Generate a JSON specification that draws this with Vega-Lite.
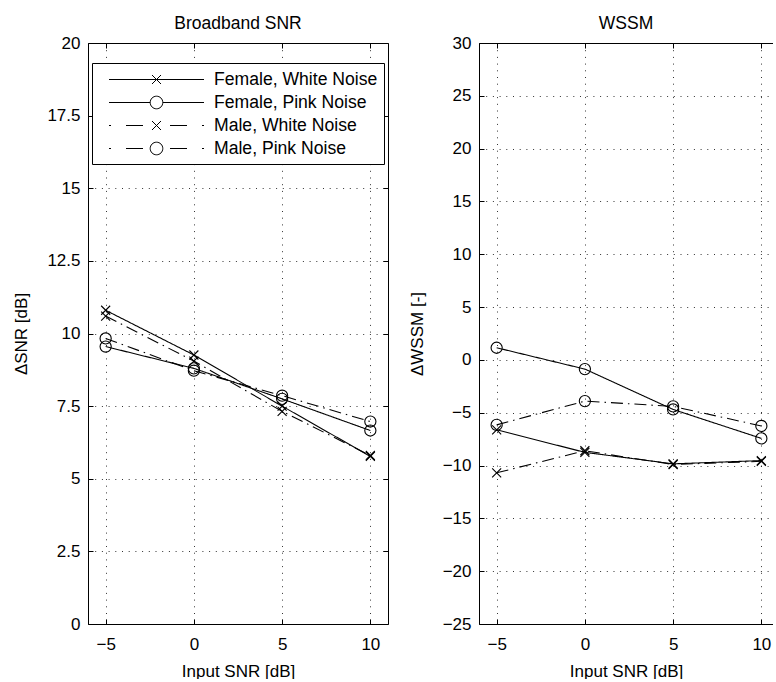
{
  "$schema": "https://vega.github.io/schema/vega-lite/v6.json",
  "padding": {"left": 12, "top": 14, "right": 0, "bottom": 0},
  "background": "white",
  "spacing": 19,
  "config": {
    "view": {"stroke": null},
    "font": "Liberation Sans",
    "axis": {
      "domainColor": "black", "domainWidth": 1, "tickColor": "black", "tickSize": -5, "tickWidth": 1,
      "labelColor": "black", "labelFont": "Liberation Sans", "labelFontSize": 17,
      "titleColor": "black", "titleFont": "Liberation Sans", "titleFontSize": 17, "titleFontWeight": "normal",
      "gridColor": "black", "gridDash": [1, 5.7], "gridOpacity": 0.8, "gridWidth": 1
    },
    "axisX": {"labelPadding": 17},
    "axisY": {"labelPadding": 13},
    "title": {"font": "Liberation Sans", "fontSize": 17.5, "fontWeight": "normal", "color": "black", "offset": 2}
  },
  "resolve": {"scale": {"shape": "independent"}, "legend": {"shape": "independent"}},
  "hconcat": [
    {
      "width": 300,
      "height": 581,
      "title": "Broadband SNR",
      "data": {"values": [
        {"series": "Female, White Noise", "sex": "Female", "noise": "White", "x": -5, "y": 10.80},
        {"series": "Female, White Noise", "sex": "Female", "noise": "White", "x": 0, "y": 9.26},
        {"series": "Female, White Noise", "sex": "Female", "noise": "White", "x": 5, "y": 7.5},
        {"series": "Female, White Noise", "sex": "Female", "noise": "White", "x": 10, "y": 5.77},
        {"series": "Female, Pink Noise", "sex": "Female", "noise": "Pink", "x": -5, "y": 9.55},
        {"series": "Female, Pink Noise", "sex": "Female", "noise": "Pink", "x": 0, "y": 8.80},
        {"series": "Female, Pink Noise", "sex": "Female", "noise": "Pink", "x": 5, "y": 7.75},
        {"series": "Female, Pink Noise", "sex": "Female", "noise": "Pink", "x": 10, "y": 6.66},
        {"series": "Male, White Noise", "sex": "Male", "noise": "White", "x": -5, "y": 10.60},
        {"series": "Male, White Noise", "sex": "Male", "noise": "White", "x": 0, "y": 9.05},
        {"series": "Male, White Noise", "sex": "Male", "noise": "White", "x": 5, "y": 7.32},
        {"series": "Male, White Noise", "sex": "Male", "noise": "White", "x": 10, "y": 5.80},
        {"series": "Male, Pink Noise", "sex": "Male", "noise": "Pink", "x": -5, "y": 9.83},
        {"series": "Male, Pink Noise", "sex": "Male", "noise": "Pink", "x": 0, "y": 8.72},
        {"series": "Male, Pink Noise", "sex": "Male", "noise": "Pink", "x": 5, "y": 7.86},
        {"series": "Male, Pink Noise", "sex": "Male", "noise": "Pink", "x": 10, "y": 6.97}
      ]},
      "resolve": {"axis": {"x": "independent", "y": "independent"}},
      "layer": [
        {
          "mark": {"type": "line", "color": "black", "strokeWidth": 1.1},
          "encoding": {
            "x": {"field": "x", "type": "quantitative", "scale": {"domain": [-6, 11], "nice": false, "zero": false},
                  "axis": {"orient": "bottom", "values": [-5, 0, 5, 10], "labelExpr": "format(datum.value, '~f')", "grid": true, "title": "Input SNR [dB]", "titlePadding": 11}},
            "y": {"field": "y", "type": "quantitative", "scale": {"domain": [0, 20], "nice": false, "zero": false},
                  "axis": {"orient": "left", "values": [0, 2.5, 5, 7.5, 10, 12.5, 15, 17.5, 20], "labelExpr": "format(datum.value, '~f')", "grid": true, "title": "ΔSNR [dB]", "titlePadding": 16}},
            "detail": {"field": "series"},
            "strokeDash": {"field": "sex", "type": "nominal", "scale": {"domain": ["Female", "Male"], "range": [[1, 0], [12, 5, 1.5, 5]]}, "legend": null}
          }
        },
        {
          "transform": [{"filter": "datum.noise === 'White'"}],
          "mark": {"type": "point", "shape": "M-1,-1L1,1M-1,1L1,-1", "size": 81, "filled": false, "color": "black", "strokeWidth": 1.1, "opacity": 1},
          "encoding": {
            "x": {"field": "x", "type": "quantitative", "axis": null},
            "y": {"field": "y", "type": "quantitative", "axis": null}
          }
        },
        {
          "transform": [{"filter": "datum.noise === 'Pink'"}],
          "mark": {"type": "point", "shape": "circle", "size": 125, "filled": false, "color": "black", "strokeWidth": 1.1, "opacity": 1},
          "encoding": {
            "x": {"field": "x", "type": "quantitative", "axis": null},
            "y": {"field": "y", "type": "quantitative", "axis": null}
          }
        },
        {
          "transform": [{"filter": "false"}],
          "mark": {"type": "point", "filled": false, "color": "black", "strokeWidth": 1, "opacity": 1},
          "encoding": {
            "x": {"field": "x", "type": "quantitative",
                  "axis": {"orient": "top", "values": [-5, 0, 5, 10], "labels": false, "grid": false, "title": null}},
            "y": {"field": "y", "type": "quantitative",
                  "axis": {"orient": "right", "values": [0, 2.5, 5, 7.5, 10, 12.5, 15, 17.5, 20], "labels": false, "grid": false, "title": null}},
            "shape": {"field": "series", "type": "nominal",
              "scale": {
                "domain": ["Female, White Noise", "Female, Pink Noise", "Male, White Noise", "Male, Pink Noise"],
                "range": [
                  "M-4.75,0L4.75,0M-0.45,-0.45L0.45,0.45M-0.45,0.45L0.45,-0.45",
                  "M-4.75,0L-0.63,0M0.63,0L4.75,0M0.63,0A0.63,0.63,0,1,1,-0.63,0A0.63,0.63,0,1,1,0.63,0",
                  "M-4.75,0L-4.55,0M-3.05,0L-1.35,0M1.35,0L3.05,0M4.55,0L4.75,0M-0.45,-0.45L0.45,0.45M-0.45,0.45L0.45,-0.45",
                  "M-4.75,0L-4.55,0M-3.05,0L-1.35,0M1.35,0L3.05,0M4.55,0L4.75,0M0.63,0A0.63,0.63,0,1,1,-0.63,0A0.63,0.63,0,1,1,0.63,0"
                ]
              },
              "legend": {
                "orient": "none", "legendX": 4, "legendY": 20, "title": null,
                "labelFont": "Liberation Sans", "labelFontSize": 17.6, "labelColor": "black", "labelOffset": 47, "labelLimit": 230,
                "symbolSize": 400, "symbolOffset": 48, "symbolStrokeWidth": 1, "symbolStrokeColor": "black", "symbolFillColor": "transparent", "symbolOpacity": 1,
                "rowPadding": 3, "padding": 6, "strokeColor": "black", "fillColor": "white"
              }
            }
          }
        }
      ]
    },
    {
      "width": 294,
      "height": 581,
      "title": "WSSM",
      "data": {"values": [
        {"series": "Female, White Noise", "sex": "Female", "noise": "White", "x": -5, "y": -6.62},
        {"series": "Female, White Noise", "sex": "Female", "noise": "White", "x": 0, "y": -8.75},
        {"series": "Female, White Noise", "sex": "Female", "noise": "White", "x": 5, "y": -9.84},
        {"series": "Female, White Noise", "sex": "Female", "noise": "White", "x": 10, "y": -9.53},
        {"series": "Female, Pink Noise", "sex": "Female", "noise": "Pink", "x": -5, "y": 1.15},
        {"series": "Female, Pink Noise", "sex": "Female", "noise": "Pink", "x": 0, "y": -0.87},
        {"series": "Female, Pink Noise", "sex": "Female", "noise": "Pink", "x": 5, "y": -4.69},
        {"series": "Female, Pink Noise", "sex": "Female", "noise": "Pink", "x": 10, "y": -7.43},
        {"series": "Male, White Noise", "sex": "Male", "noise": "White", "x": -5, "y": -10.69},
        {"series": "Male, White Noise", "sex": "Male", "noise": "White", "x": 0, "y": -8.6},
        {"series": "Male, White Noise", "sex": "Male", "noise": "White", "x": 5, "y": -9.9},
        {"series": "Male, White Noise", "sex": "Male", "noise": "White", "x": 10, "y": -9.6},
        {"series": "Male, Pink Noise", "sex": "Male", "noise": "Pink", "x": -5, "y": -6.15},
        {"series": "Male, Pink Noise", "sex": "Male", "noise": "Pink", "x": 0, "y": -3.9},
        {"series": "Male, Pink Noise", "sex": "Male", "noise": "Pink", "x": 5, "y": -4.4},
        {"series": "Male, Pink Noise", "sex": "Male", "noise": "Pink", "x": 10, "y": -6.25}
      ]},
      "resolve": {"axis": {"x": "independent", "y": "independent"}},
      "layer": [
        {
          "mark": {"type": "line", "color": "black", "strokeWidth": 1.1},
          "encoding": {
            "x": {"field": "x", "type": "quantitative", "scale": {"domain": [-6, 10.66], "nice": false, "zero": false},
                  "axis": {"orient": "bottom", "values": [-5, 0, 5, 10], "labelExpr": "format(datum.value, '~f')", "grid": true, "title": "Input SNR [dB]", "titlePadding": 11}},
            "y": {"field": "y", "type": "quantitative", "scale": {"domain": [-25, 30], "nice": false, "zero": false},
                  "axis": {"orient": "left", "values": [-25, -20, -15, -10, -5, 0, 5, 10, 15, 20, 25, 30], "labelExpr": "format(datum.value, '~f')", "grid": true, "title": "ΔWSSM [-]", "titlePadding": 16}},
            "detail": {"field": "series"},
            "strokeDash": {"field": "sex", "type": "nominal", "scale": {"domain": ["Female", "Male"], "range": [[1, 0], [12, 5, 1.5, 5]]}, "legend": null}
          }
        },
        {
          "transform": [{"filter": "datum.noise === 'White'"}],
          "mark": {"type": "point", "shape": "M-1,-1L1,1M-1,1L1,-1", "size": 81, "filled": false, "color": "black", "strokeWidth": 1.1, "opacity": 1},
          "encoding": {
            "x": {"field": "x", "type": "quantitative",
                  "axis": {"orient": "top", "values": [-5, 0, 5, 10], "labels": false, "grid": false, "title": null}},
            "y": {"field": "y", "type": "quantitative", "axis": null}
          }
        },
        {
          "transform": [{"filter": "datum.noise === 'Pink'"}],
          "mark": {"type": "point", "shape": "circle", "size": 125, "filled": false, "color": "black", "strokeWidth": 1.1, "opacity": 1},
          "encoding": {
            "x": {"field": "x", "type": "quantitative", "axis": null},
            "y": {"field": "y", "type": "quantitative", "axis": null}
          }
        }
      ]
    }
  ]
}
